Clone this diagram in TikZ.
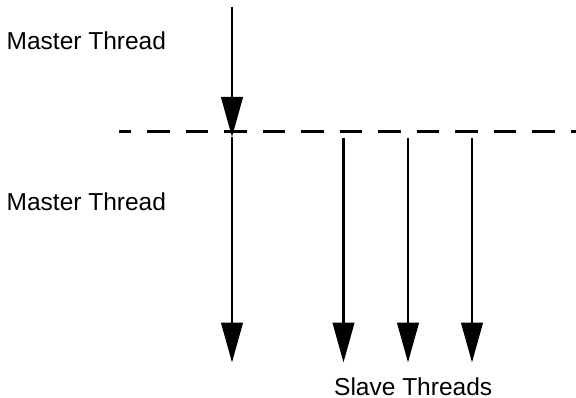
\documentclass[tikz,border=0pt]{standalone}
\usepackage{fontspec}
\setmainfont{Liberation Sans}
\usetikzlibrary{arrows.meta}
\begin{document}
\begin{tikzpicture}[x=1pt,y=-1pt,
  lbl/.style={anchor=base west,inner sep=0pt,font=\fontsize{24.5}{28}\selectfont},
  thread/.style={line width=2.8pt,-{Triangle[length=40pt,width=21.5pt]}},
  barrier/.style={line width=3pt,dash pattern=on 22.5pt off 16pt,dash phase=10.5pt}]
\useasboundingbox (0,0) rectangle (576,398);
\fill[white] (0,0) rectangle (576,398);
\node[lbl] (m1) at (6.5,49.5) {Master Thread};
\node[lbl] (m2) at (6.5,211) {Master Thread};
\node[lbl] (sl) at (334,395) {Slave Threads};
\coordinate (bl) at (119,131.5);
\coordinate (br) at (576,131.5);
\coordinate (mt) at (232,7);
\coordinate (mb) at (232,137);
\coordinate (ms) at (232,137.5);
\coordinate (me) at (232,362.5);
\coordinate (s1) at (343.5,138);
\coordinate (s1e) at (343.5,362.5);
\coordinate (s2) at (408,138);
\coordinate (s2e) at (408,362.5);
\coordinate (s3) at (472,138);
\coordinate (s3e) at (472,362.5);
\draw[thread] (mt) -- (mb);
\draw[barrier] (bl) -- (br);
\draw[thread] (ms) -- (me);
\draw[thread] (s1) -- (s1e);
\draw[thread] (s2) -- (s2e);
\draw[thread] (s3) -- (s3e);
\end{tikzpicture}
\end{document}
